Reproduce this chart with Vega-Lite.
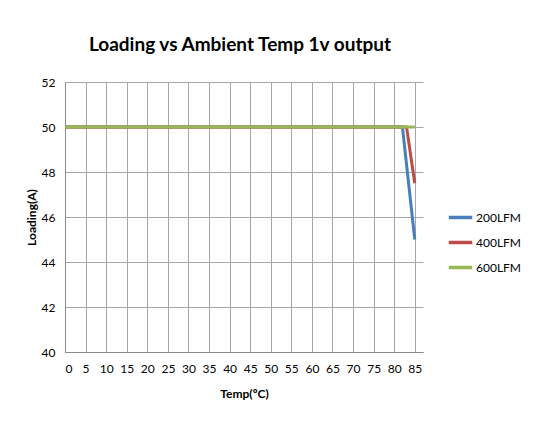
{
  "$schema": "https://vega.github.io/schema/vega-lite/v6.json",
  "autosize": {"type": "none"},
  "padding": {"left": 65, "top": 82, "right": 127, "bottom": 78},
  "width": 358,
  "height": 270,
  "background": "white",
  "title": {
    "text": "Loading vs Ambient Temp 1v output",
    "font": "Lato",
    "fontSize": 19,
    "fontWeight": "bold",
    "color": "#000000",
    "anchor": "middle",
    "offset": 21,
    "dx": -4
  },
  "data": {
    "values": [
      {"temp": 0, "loading": 50, "series": "200LFM"},
      {"temp": 82, "loading": 50, "series": "200LFM"},
      {"temp": 85, "loading": 45, "series": "200LFM"},
      {"temp": 0, "loading": 50, "series": "400LFM"},
      {"temp": 83, "loading": 50, "series": "400LFM"},
      {"temp": 85, "loading": 47.5, "series": "400LFM"},
      {"temp": 0, "loading": 50, "series": "600LFM"},
      {"temp": 85, "loading": 50, "series": "600LFM"}
    ]
  },
  "mark": {"type": "line", "strokeWidth": 3},
  "encoding": {
    "x": {
      "field": "temp",
      "type": "quantitative",
      "title": "Temp(ºC)",
      "scale": {"domain": [0, 87], "nice": false, "zero": false},
      "axis": {
        "values": [0, 5, 10, 15, 20, 25, 30, 35, 40, 45, 50, 55, 60, 65, 70, 75, 80, 85],
        "ticks": false,
        "labelPadding": 11,
        "labelFont": "Lato",
        "labelFontSize": 12,
        "labelColor": "#000000",
        "titleFont": "Lato",
        "titleFontSize": 12,
        "titleFontWeight": "bold",
        "titleColor": "#000000",
        "titlePadding": 14,
        "domainColor": "#8a8a8a",
        "gridColor": "#a6a6a6",
        "gridOpacity": 1
      }
    },
    "y": {
      "field": "loading",
      "type": "quantitative",
      "title": "Loading(A)",
      "scale": {"domain": [40, 52], "nice": false, "zero": false},
      "axis": {
        "values": [40, 42, 44, 46, 48, 50, 52],
        "ticks": false,
        "labelPadding": 10,
        "labelFont": "Lato",
        "labelFontSize": 12,
        "labelColor": "#000000",
        "titleFont": "Lato",
        "titleFontSize": 12,
        "titleFontWeight": "bold",
        "titleColor": "#000000",
        "titlePadding": 3,
        "domainColor": "#8a8a8a",
        "gridColor": "#a6a6a6",
        "gridOpacity": 1
      }
    },
    "color": {
      "field": "series",
      "type": "nominal",
      "scale": {
        "domain": ["200LFM", "400LFM", "600LFM"],
        "range": ["#4a7ebb", "#be4b48", "#98b954"]
      },
      "legend": {
        "title": null,
        "orient": "none",
        "legendX": 382,
        "legendY": 122,
        "symbolType": "stroke",
        "symbolSize": 550,
        "symbolStrokeWidth": 3.5,
        "rowPadding": 4,
        "labelFont": "Lato",
        "labelFontSize": 12,
        "labelColor": "#000000",
        "labelOffset": 2
      }
    }
  },
  "config": {"view": {"stroke": null}}
}
